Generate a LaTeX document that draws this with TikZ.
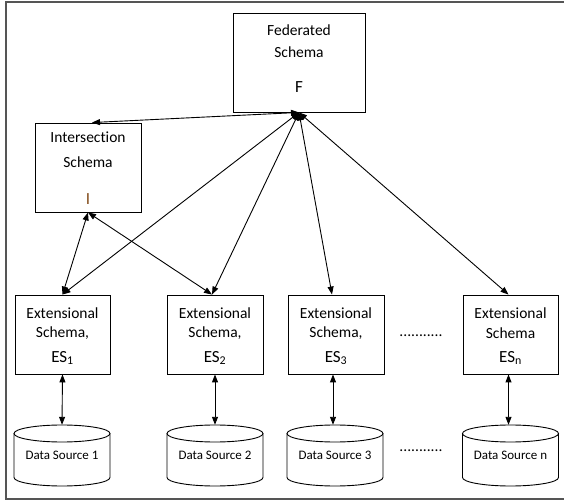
\documentclass[tikz,border=0pt]{standalone}
\usepackage{fontspec}
\setmainfont[Ligatures=NoCommon]{Carlito}
\usetikzlibrary{arrows.meta}
\definecolor{framegray}{RGB}{85,85,85}
\definecolor{ibrown}{RGB}{130,75,25}
\tikzset{
  box/.style={draw, line width=0.9pt, minimum width=#1, inner sep=0pt},
  txt/.style={font=\fontsize{15.5}{18}\selectfont, inner sep=0pt, anchor=center},
  bigtxt/.style={font=\fontsize{17}{20}\selectfont, inner sep=0pt, anchor=center},
  dstxt/.style={font=\fontsize{13}{15}\selectfont, inner sep=0pt},
  dbl/.style={line width=0.9pt, {Triangle[length=8pt,width=6pt]}-{Triangle[length=8pt,width=6pt]}},
  cyl/.style={line width=0.9pt}
}
\newcommand{\dbcyl}[3]{%
  \node[minimum width=96pt, minimum height=61pt, inner sep=0pt] (#1) at (#2,47.5) {};
  \draw[cyl] (#2,69.5) ellipse (48 and 8.5);
  \draw[cyl] (#2-48,69.5) -- (#2-48,25.5) arc (180:360:48 and 8.5) -- (#2+48,69.5);
  \node[dstxt] at (#2,48) {#3};
}
\begin{document}
\begin{tikzpicture}[x=1pt,y=1pt]
\useasboundingbox (0,0) rectangle (564,503);
% frame
\draw[framegray, line width=2pt] (564,501) -- (6,501) -- (6,4) -- (564,4);

% Federated schema
\node[box=132pt, minimum height=99pt] (F) at (299,440.5) {};
\node[txt] (Ft1) at (299,473) {Federated};
\node[txt] (Ft2) at (299,451) {Schema};
\node[bigtxt] (Ft3) at (299,416) {F};

% Intersection schema
\node[box=106pt, minimum height=89pt] (I) at (88,335.5) {};
\node[txt] (It1) at (88,366) {Intersection};
\node[txt] (It2) at (88,341) {Schema};
\node[bigtxt, text=ibrown] (It3) at (88,304) {I};

% Extensional schemas
\node[box=95pt, minimum height=79pt] (ES1) at (62.5,168.5) {};
\node[box=96pt, minimum height=79pt] (ES2) at (215,168.5) {};
\node[box=96pt, minimum height=79pt] (ES3) at (336,168.5) {};
\node[box=95pt, minimum height=79pt] (ESn) at (510.5,168.5) {};

\node[txt] (e1a) at (62.5,190) {Extensional};
\node[txt] (e1b) at (62.5,170) {Schema,};
\node[bigtxt] (e1c) at (62.5,145) {ES\textsubscript{1}};

\node[txt] (e2a) at (215,190) {Extensional};
\node[txt] (e2b) at (215,170) {Schema,};
\node[bigtxt] (e2c) at (215,145) {ES\textsubscript{2}};

\node[txt] (e3a) at (336,190) {Extensional};
\node[txt] (e3b) at (336,170) {Schema,};
\node[bigtxt] (e3c) at (336,145) {ES\textsubscript{3}};

\node[txt] (ena) at (510.5,190) {Extensional};
\node[txt] (enb) at (510.5,170) {Schema};
\node[bigtxt] (enc) at (510.5,145) {ES\textsubscript{n}};

\node[txt] (dots1) at (421,167) {...........};

% Data sources
\dbcyl{D1}{62}{Data Source 1}
\dbcyl{D2}{215}{Data Source 2}
\dbcyl{D3}{335}{Data Source 3}
\dbcyl{Dn}{510.5}{Data Source n}
\node[txt] (dots2) at (421,52) {...........};

% connectors
\draw[dbl] (F.south) -- ([xshift=4pt]I.north);
\draw[dbl] (F.south) -- (ES1.north);
\draw[dbl] (F.south) -- ([xshift=-3pt]ES2.north);
\draw[dbl] (F.south) -- ([xshift=-4pt]ES3.north);
\draw[dbl] (F.south) -- ([xshift=-2pt]ESn.north);
\draw[dbl] (I.south) -- (ES1.north);
\draw[dbl] (I.south) -- ([xshift=-3pt]ES2.north);

\draw[dbl] (ES1.south) -- (D1.north);
\draw[dbl] (ES2.south) -- (D2.north);
\draw[dbl] ([xshift=-3pt]ES3.south) -- ([xshift=-2pt]D3.north);
\draw[dbl] ([xshift=-2pt]ESn.south) -- ([xshift=-2pt]Dn.north);
\end{tikzpicture}
\end{document}
